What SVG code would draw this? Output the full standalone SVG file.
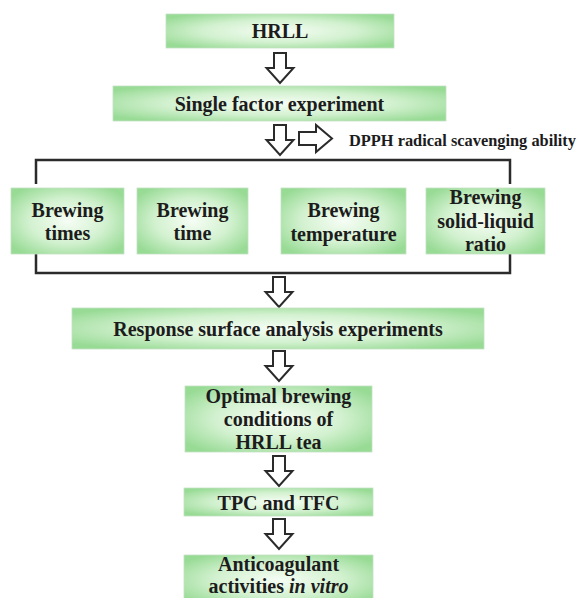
<svg xmlns="http://www.w3.org/2000/svg" xmlns:xlink="http://www.w3.org/1999/xlink" width="579" height="598" viewBox="0 0 579 598">
  <defs>
    <radialGradient id="boxGrad" cx="0.5" cy="0.5" r="0.62">
      <stop offset="0" stop-color="#f6fdf5"/>
      <stop offset="0.55" stop-color="#d2f1cf"/>
      <stop offset="1" stop-color="#98db95"/>
    </radialGradient>
    <path id="downArrow" d="M-6,0 H6 V15 H13.5 L0,30 L-13.5,15 H-6 Z"/>
    <path id="rightArrow" d="M0,-6.5 H17 V-13.5 L33,0 L17,13.5 V6.5 H0 Z"/>
  </defs>
  <style>
    .box { fill: url(#boxGrad); stroke: #c4e2c2; stroke-width: 0.8; }
    .lbl { font-family: "Liberation Serif", "Times New Roman", serif; font-weight: bold; font-size: 20px; fill: #1c1c1c; text-anchor: middle; }
    .side { font-family: "Liberation Serif", "Times New Roman", serif; font-weight: bold; font-size: 16.5px; fill: #1c1c1c; }
    .arrow { fill: #ffffff; stroke: #2b2b2b; stroke-width: 2; stroke-linejoin: miter; }
    .bracket { fill: none; stroke: #2b2b2b; stroke-width: 2.5; }
  </style>
  <rect width="579" height="598" fill="#ffffff"/>

  <g id="connectors">
    <use xlink:href="#downArrow" href="#downArrow" class="arrow" x="280" y="53"/>
    <use xlink:href="#downArrow" href="#downArrow" class="arrow" x="280" y="125"/>
    <use xlink:href="#rightArrow" href="#rightArrow" class="arrow" x="299" y="138.5"/>
    <path class="bracket" d="M36,184 V160 H510 V184"/>
    <path class="bracket" d="M36,254 V273 H510 V254"/>
    <use xlink:href="#downArrow" href="#downArrow" class="arrow" x="279" y="277"/>
    <use xlink:href="#downArrow" href="#downArrow" class="arrow" x="279" y="351"/>
    <use xlink:href="#downArrow" href="#downArrow" class="arrow" x="279" y="456"/>
    <use xlink:href="#downArrow" href="#downArrow" class="arrow" x="279" y="519"/>
  </g>

  <g id="hrll">
    <rect class="box" x="166" y="14" width="228" height="34"/>
    <text class="lbl" x="280" y="38">HRLL</text>
  </g>

  <g id="single-factor">
    <rect class="box" x="113" y="86" width="333" height="35"/>
    <text class="lbl" x="279.5" y="111">Single factor experiment</text>
  </g>

  <g id="dpph">
    <text class="side" x="349" y="146" textLength="227" lengthAdjust="spacingAndGlyphs">DPPH radical scavenging ability</text>
  </g>

  <g id="brewing-times">
    <rect class="box" x="11" y="188" width="113" height="66"/>
    <text class="lbl" x="67.5" y="217">Brewing</text>
    <text class="lbl" x="67.5" y="240">times</text>
  </g>

  <g id="brewing-time">
    <rect class="box" x="137" y="188" width="111" height="66"/>
    <text class="lbl" x="192.5" y="217">Brewing</text>
    <text class="lbl" x="192.5" y="240">time</text>
  </g>

  <g id="brewing-temperature">
    <rect class="box" x="281" y="188" width="125" height="66"/>
    <text class="lbl" x="343.5" y="217">Brewing</text>
    <text class="lbl" x="343.5" y="241">temperature</text>
  </g>

  <g id="brewing-ratio">
    <rect class="box" x="426" y="188" width="119" height="66"/>
    <text class="lbl" x="485.5" y="204">Brewing</text>
    <text class="lbl" x="485.5" y="228">solid-liquid</text>
    <text class="lbl" x="485.5" y="251">ratio</text>
  </g>

  <g id="response-surface">
    <rect class="box" x="72" y="308" width="412" height="41"/>
    <text class="lbl" x="278" y="336">Response surface analysis experiments</text>
  </g>

  <g id="optimal">
    <rect class="box" x="185" y="386" width="187" height="66"/>
    <text class="lbl" x="278.5" y="403">Optimal brewing</text>
    <text class="lbl" x="278.5" y="426">conditions of</text>
    <text class="lbl" x="278.5" y="449">HRLL tea</text>
  </g>

  <g id="tpc-tfc">
    <rect class="box" x="184" y="488" width="189" height="28"/>
    <text class="lbl" x="278.5" y="510">TPC and TFC</text>
  </g>

  <g id="anticoagulant">
    <rect class="box" x="184" y="555" width="189" height="50"/>
    <text class="lbl" x="278.5" y="571">Anticoagulant</text>
    <text class="lbl" x="278.5" y="593">activities <tspan font-style="italic">in vitro</tspan></text>
  </g>
</svg>
